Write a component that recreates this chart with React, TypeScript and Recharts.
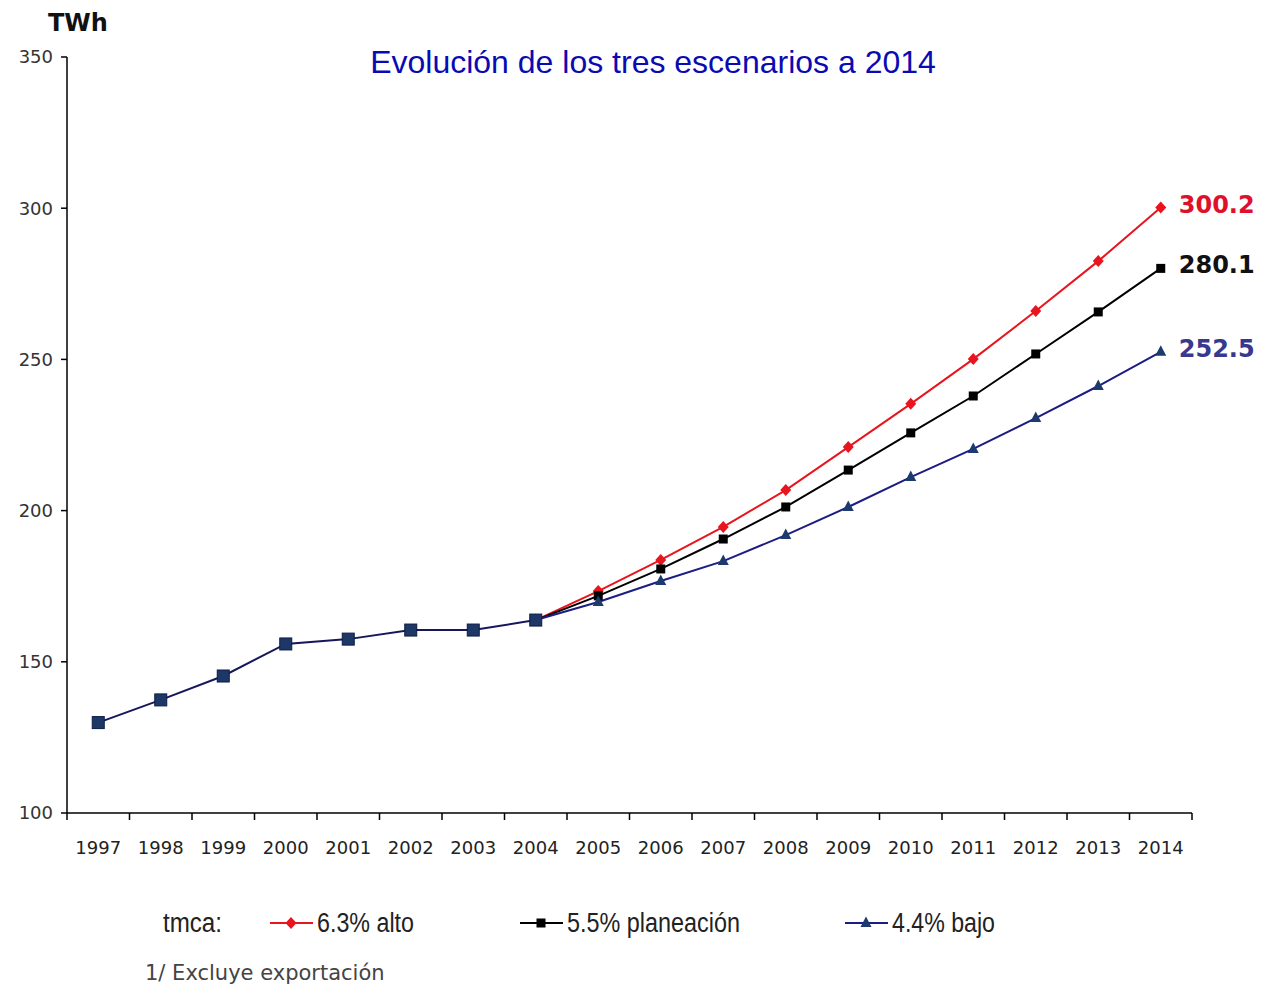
import React from 'react';
import { LineChart, Line, XAxis, YAxis } from 'recharts';

// Values (TWh)
const years = ['1997', '1998', '1999', '2000', '2001', '2002', '2003', '2004', '2005', '2006', '2007', '2008', '2009', '2010', '2011', '2012', '2013', '2014'];
const historico = [129.9, 137.4, 145.3, 155.9, 157.5, 160.5, 160.5, 163.8, null, null, null, null, null, null, null, null, null, null];
const alto = [null, null, null, null, null, null, null, 163.8, 173.4, 183.7, 194.6, 206.8, 221.0, 235.3, 250.1, 266.0, 282.5, 300.2];
const planeacion = [null, null, null, null, null, null, null, 163.8, 171.8, 180.7, 190.6, 201.2, 213.4, 225.7, 237.9, 251.8, 265.7, 280.1];
const bajo = [null, null, null, null, null, null, null, 163.8, 169.8, 176.7, 183.3, 191.9, 201.2, 211.1, 220.4, 230.6, 241.2, 252.5];
const yTicks = [100, 150, 200, 250, 300, 350];

const data = years.map((year, i) => ({
  year,
  historico: historico[i],
  alto: alto[i],
  planeacion: planeacion[i],
  bajo: bajo[i],
}));

const W = 1256;
const H = 978;
const PLOT_W = 1125;
const BAND = PLOT_W / years.length;
const TICK_FONT = "'DejaVu Sans', Verdana, sans-serif";
const NARROW_FONT = "'Liberation Sans', Arial, sans-serif";

const RED = '#e8141e';
const BLACK = '#000000';
const NAVY = '#1c1c82';
const HIST = '#16165c';

const Diamond = ({ cx, cy, fill }: any) =>
  cx == null || cy == null ? null : (
    <path d={`M${cx},${cy - 6} L${cx + 5.5},${cy} L${cx},${cy + 6} L${cx - 5.5},${cy} Z`} fill={fill} />
  );

const Square = ({ cx, cy, fill, size = 9 }: any) =>
  cx == null || cy == null ? null : (
    <rect x={cx - size / 2} y={cy - size / 2} width={size} height={size} fill={fill} />
  );

const Triangle = ({ cx, cy, fill }: any) =>
  cx == null || cy == null ? null : (
    <path d={`M${cx},${cy - 6.5} L${cx + 5.5},${cy + 4} L${cx - 5.5},${cy + 4} Z`} fill={fill} />
  );

const HistSquare = (props: any) =>
  props.cx == null || props.cy == null ? null : (
    <rect x={props.cx - 6} y={props.cy - 6} width={12} height={12} fill="#1d3866" stroke="#0e1b44" strokeWidth={1} />
  );

const endLabel = (color: string) => (props: any) => {
  const { x, y, index, value } = props;
  if (index !== years.length - 1) return null;
  return (
    <text x={x + 18} y={y - 3} fill={color} fontFamily={TICK_FONT} fontWeight="bold" fontSize={24} dominantBaseline="central">
      {Number(value).toFixed(1)}
    </text>
  );
};

const YearTick = ({ x, y, payload, index }: any) => (
  <g>
    <line x1={x - BAND / 2} y1={y} x2={x - BAND / 2} y2={y + 7} stroke="#000" strokeWidth={1.5} />
    {index === years.length - 1 && (
      <line x1={x + BAND / 2} y1={y} x2={x + BAND / 2} y2={y + 7} stroke="#000" strokeWidth={1.5} />
    )}
    <text x={x} y={y + 34} textAnchor="middle" dominantBaseline="central" fontFamily={TICK_FONT} fontSize={18} fill="#222">
      {payload.value}
    </text>
  </g>
);

const LegendItem = ({ x, color, label, width, marker }: any) => (
  <g>
    <line x1={x} y1={915} x2={x + 43} y2={915} stroke={color} strokeWidth={2} />
    {marker}
    <text
      x={x + 47}
      y={915}
      dominantBaseline="central"
      fontFamily={NARROW_FONT}
      fontSize={27}
      fill="#222"
      textLength={width}
      lengthAdjust="spacingAndGlyphs"
    >
      {label}
    </text>
  </g>
);

const App = () => (
  <div style={{ position: 'relative', width: W, height: H }}>
    <LineChart width={W} height={H} data={data} margin={{ top: 49, right: 72, left: 0, bottom: 133 }}>
      <XAxis
        dataKey="year"
        height={40}
        padding={{ left: BAND / 2, right: BAND / 2 }}
        tick={<YearTick />}
        tickLine={false}
        tickSize={0}
        tickMargin={0}
        axisLine={{ stroke: '#000', strokeWidth: 1.5 }}
        interval={0}
      />
      <YAxis
        width={59}
        domain={[100, 350]}
        ticks={yTicks}
        tickSize={6}
        tickMargin={8}
        tickLine={{ stroke: '#000', strokeWidth: 1.5 }}
        axisLine={{ stroke: '#000', strokeWidth: 1.5 }}
        tick={{ fontFamily: TICK_FONT, fontSize: 18, fill: '#333' }}
      />
      <Line dataKey="alto" stroke={RED} strokeWidth={2} dot={<Diamond fill={RED} />} isAnimationActive={false} label={endLabel('#e0102a')} />
      <Line dataKey="planeacion" stroke={BLACK} strokeWidth={2} dot={<Square fill={BLACK} size={9} />} isAnimationActive={false} label={endLabel('#111111')} />
      <Line dataKey="bajo" stroke={NAVY} strokeWidth={2} dot={<Triangle fill="#1d3a6e" />} isAnimationActive={false} label={endLabel('#38388e')} />
      <Line dataKey="historico" stroke={HIST} strokeWidth={2} dot={<HistSquare />} isAnimationActive={false} />
    </LineChart>
    <svg width={W} height={H} style={{ position: 'absolute', left: 0, top: 0, pointerEvents: 'none' }}>
      <text x={40} y={15} dominantBaseline="central" fontFamily={TICK_FONT} fontWeight="bold" fontSize={24} fill="#111">
        TWh
      </text>
      <text x={645} y={54} textAnchor="middle" dominantBaseline="central" fontFamily="'Liberation Sans', Arial, sans-serif" fontSize={32} fill="#0a0ab4">
        Evolución de los tres escenarios a 2014
      </text>
      <text
        x={155}
        y={915}
        dominantBaseline="central"
        fontFamily={NARROW_FONT}
        fontSize={27}
        fill="#222"
        textLength={59}
        lengthAdjust="spacingAndGlyphs"
      >
        tmca:
      </text>
      <LegendItem x={262} color={RED} label="6.3% alto" width={97} marker={<Diamond cx={283} cy={915} fill={RED} />} />
      <LegendItem x={512} color={BLACK} label="5.5% planeación" width={173} marker={<Square cx={533} cy={915} fill={BLACK} size={9} />} />
      <LegendItem x={837} color={NAVY} label="4.4% bajo" width={103} marker={<Triangle cx={858} cy={915} fill="#1d3a6e" />} />
      <text x={137} y={965} dominantBaseline="central" fontFamily={TICK_FONT} fontSize={21} fill="#444">
        1/ Excluye exportación
      </text>
    </svg>
  </div>
);

export default App;
